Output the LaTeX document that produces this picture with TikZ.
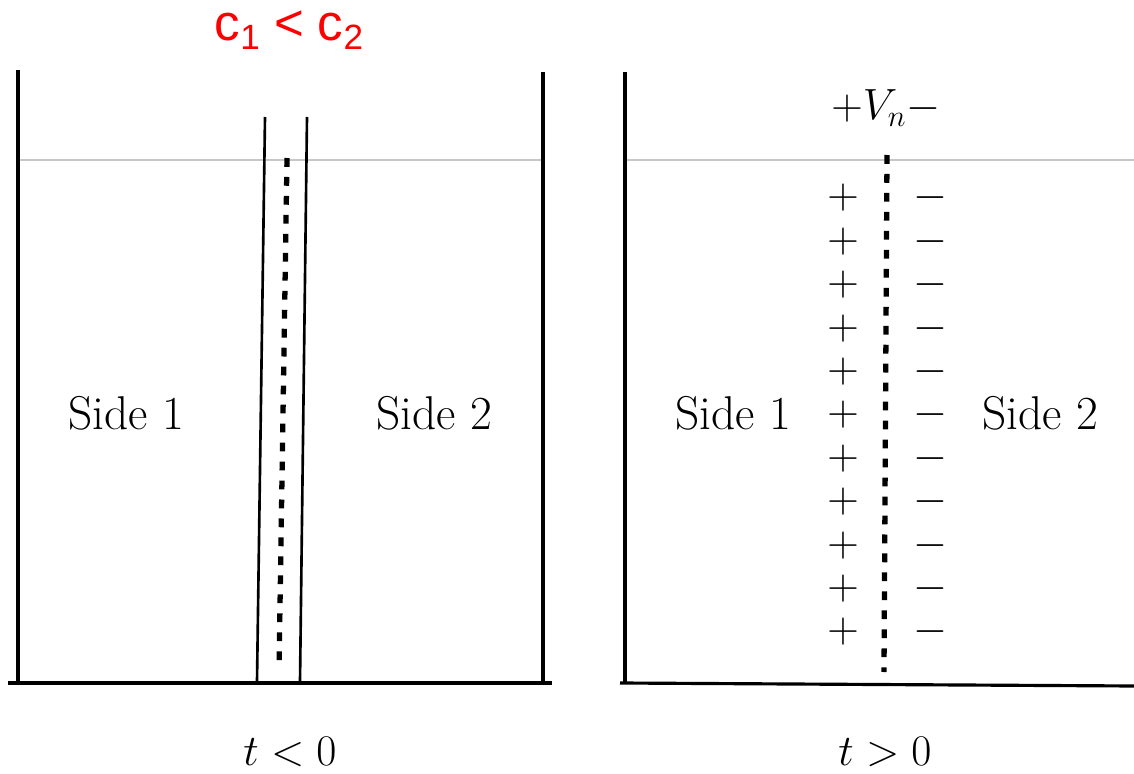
\documentclass[tikz,border=0pt]{standalone}
\usepackage{fontspec}
\newfontfamily\arialfont{Liberation Sans}
\newcommand{\redsub}[1]{\raisebox{-0.35ex}{\fontsize{20}{22}\selectfont #1}}
\begin{document}
\begin{tikzpicture}[x=0.02cm,y=-0.02cm,
  wall/.style={line width=1.8pt,black},
  memb/.style={line width=1.5pt,black},
  water/.style={line width=1.6pt,black!22},
  dotline/.style={line width=3pt,dash pattern=on 5pt off 5.8pt,black},
  lbl/.style={font=\fontsize{27}{32}\selectfont,inner sep=0pt},
  mlbl/.style={font=\fontsize{24}{28}\selectfont,inner sep=0pt},
  sign/.style={font=\fontsize{24}{28}\selectfont,inner sep=0pt},
  redlbl/.style={font=\arialfont\fontsize{29}{34}\selectfont,text=red,inner sep=0pt}]
\useasboundingbox (0,0) rectangle (1134,774);
% left tank
\draw[water] (18,160) -- (543,160);
\draw[wall] (18,70) -- (18,683);
\draw[wall] (543,72) -- (543,683);
\draw[wall] (8,683) -- (552,683);
\draw[memb] (265,117) -- (257,682);
\draw[memb] (307,117) -- (300,682);
\draw[dotline] (287,158) -- (279,670);
% right tank
\draw[water] (625,160) -- (1134,160);
\draw[wall] (625,72) -- (625,683);
\draw[wall] (620,683) -- (1134,686);
\draw[dotline] (887,155) -- (884,672);
% labels
\node[redlbl] (cmp) at (289,30) {c\redsub{1} < c\redsub{2}};
\node[lbl] (s1a) at (126,413) {Side 1};
\node[lbl] (s2a) at (434,413) {Side 2};
\node[lbl] (s1b) at (733,413) {Side 1};
\node[lbl] (s2b) at (1040,413) {Side 2};
\node[mlbl] (ta) at (290,752) {$t<0$};
\node[mlbl] (tb) at (885,752) {$t>0$};
\node[mlbl] (vn) at (886,108) {$+V_n-$};
\foreach \i in {0,...,10} {
  \node[sign] (p\i) at (843,{198+43.4*\i}) {$+$};
  \node[sign] (m\i) at (930,{198+43.4*\i}) {$-$};
}
\end{tikzpicture}
\end{document}
